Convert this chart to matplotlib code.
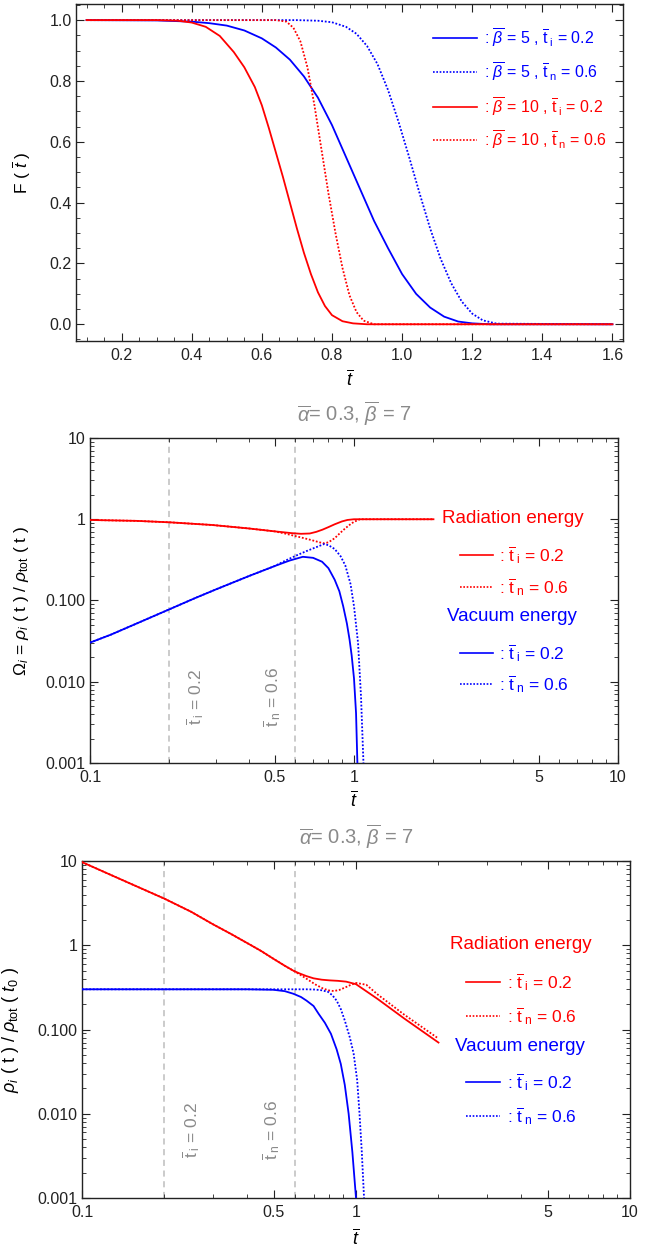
import matplotlib

matplotlib.use("Agg")
import matplotlib.pyplot as plt  # noqa: E402
from matplotlib.lines import Line2D  # noqa: E402
from matplotlib.ticker import FixedLocator, MultipleLocator, NullFormatter  # noqa: E402

RED = "#FF0000"
BLUE = "#0000FF"
GREY = "#8A8A8A"
VLINE = "#BDBDBD"
FRAME = "#222222"
DOT = (0, (1.0, 1.0))

plt.rcParams.update(
    {
        "font.family": ["Liberation Sans", "DejaVu Sans"],
        "mathtext.fontset": "custom",
        "mathtext.rm": "Liberation Sans",
        "mathtext.it": "Liberation Sans:italic",
        "mathtext.bf": "Liberation Sans:bold",
        "font.size": 11,
        "axes.edgecolor": FRAME,
        "axes.linewidth": 1.0,
        "xtick.direction": "in",
        "ytick.direction": "in",
        "xtick.top": True,
        "ytick.right": True,
    }
)

# ---- panel 1: F(t) ----
t_b5_ti = [0.10, 0.30, 0.40, 0.45, 0.50, 0.55, 0.60, 0.64, 0.68, 0.72, 0.76, 0.80, 0.84, 0.88,
           0.92, 0.96, 1.00, 1.04, 1.08, 1.12, 1.16, 1.20, 1.25, 1.60]
F_b5_ti = [1.0, 0.999, 0.995, 0.99, 0.982, 0.966, 0.94, 0.91, 0.87, 0.815, 0.745, 0.655, 0.55, 0.445,
           0.34, 0.25, 0.165, 0.10, 0.055, 0.025, 0.009, 0.003, 0.0, 0.0]
t_b5_tn = [0.10, 0.70, 0.76, 0.80, 0.84, 0.87, 0.90, 0.93, 0.96, 0.99, 1.02, 1.05, 1.08, 1.11,
           1.14, 1.17, 1.20, 1.23, 1.27, 1.60]
F_b5_tn = [1.0, 1.0, 0.998, 0.993, 0.978, 0.955, 0.915, 0.855, 0.77, 0.665, 0.55, 0.43, 0.315, 0.215,
           0.135, 0.075, 0.035, 0.013, 0.002, 0.0]
t_b10_ti = [0.10, 0.30, 0.36, 0.40, 0.44, 0.48, 0.52, 0.55, 0.58, 0.60, 0.62, 0.64, 0.66, 0.68,
            0.70, 0.72, 0.74, 0.76, 0.78, 0.80, 0.83, 0.86, 0.90, 1.60]
F_b10_ti = [1.0, 1.0, 0.998, 0.992, 0.978, 0.948, 0.895, 0.845, 0.78, 0.72, 0.645, 0.565, 0.485, 0.40,
            0.315, 0.235, 0.165, 0.105, 0.06, 0.03, 0.01, 0.003, 0.0, 0.0]
t_b10_tn = [0.10, 0.64, 0.67, 0.69, 0.71, 0.73, 0.75, 0.77, 0.79, 0.81, 0.83, 0.85, 0.87, 0.89,
            0.92, 1.60]
F_b10_tn = [1.0, 1.0, 0.995, 0.975, 0.93, 0.845, 0.72, 0.575, 0.43, 0.30, 0.185, 0.095, 0.04, 0.012,
            0.0, 0.0]

# ---- panel 2: density fractions Omega_i ----
t_om_rad_ti = [0.10, 0.15, 0.20, 0.29, 0.40, 0.50, 0.58, 0.63, 0.68, 0.72, 0.76, 0.80, 0.845, 0.90,
               0.944, 1.0, 2.0]
om_rad_ti = [0.98, 0.955, 0.917, 0.85, 0.77, 0.71, 0.675, 0.662, 0.668, 0.70, 0.745, 0.80, 0.867, 0.94,
             0.98, 1.0, 1.0]
t_om_rad_tn = [0.10, 0.15, 0.20, 0.29, 0.40, 0.50, 0.55, 0.607, 0.66, 0.703, 0.74, 0.77, 0.80, 0.845,
               0.887, 0.927, 0.97, 1.0, 1.054, 2.0]
om_rad_tn = [0.98, 0.955, 0.917, 0.85, 0.77, 0.71, 0.665, 0.615, 0.575, 0.545, 0.52, 0.506, 0.52, 0.584,
             0.68, 0.774, 0.87, 0.93, 1.0, 1.0]
t_om_vac_ti = [0.10, 0.12, 0.15, 0.20, 0.25, 0.30, 0.40, 0.50, 0.57, 0.64, 0.70, 0.757, 0.80, 0.845,
               0.88, 0.91, 0.94, 0.962, 0.98, 1.0, 1.018, 1.03]
om_vac_ti = [0.0303, 0.038, 0.052, 0.078, 0.107, 0.137, 0.20, 0.265, 0.31, 0.345, 0.335, 0.30, 0.25, 0.18,
             0.13, 0.085, 0.052, 0.033, 0.021, 0.011, 0.0041, 0.001]
t_om_vac_tn = [0.10, 0.12, 0.15, 0.20, 0.25, 0.30, 0.40, 0.50, 0.55, 0.607, 0.66, 0.703, 0.74, 0.77,
               0.80, 0.845, 0.89, 0.927, 0.97, 1.0, 1.036, 1.063, 1.086]
om_vac_tn = [0.0303, 0.038, 0.052, 0.078, 0.107, 0.137, 0.20, 0.265, 0.31, 0.36, 0.405, 0.44, 0.47, 0.495,
             0.48, 0.43, 0.35, 0.27, 0.16, 0.085, 0.03, 0.0066, 0.001]

# ---- panel 3: rho_i / rho_tot(t0) ----
t_rho_rad_ti = [0.10, 0.15, 0.20, 0.25, 0.30, 0.35, 0.414, 0.45, 0.50, 0.55, 0.59, 0.62, 0.66, 0.70,
                0.75, 0.80, 0.86, 0.92, 1.0, 1.2, 1.5, 2.0]
rho_rad_ti = [9.7, 5.4, 3.57, 2.50, 1.78, 1.36, 1.0, 0.857, 0.69, 0.57, 0.50, 0.465, 0.43, 0.405,
              0.39, 0.383, 0.378, 0.37, 0.345, 0.23, 0.135, 0.070]
t_rho_rad_tn = [0.10, 0.15, 0.20, 0.25, 0.30, 0.35, 0.414, 0.45, 0.50, 0.55, 0.59, 0.62, 0.66, 0.71,
                0.76, 0.80, 0.83, 0.87, 0.91, 0.96, 1.0, 1.09, 1.2, 1.5, 2.0]
rho_rad_tn = [9.7, 5.4, 3.57, 2.50, 1.78, 1.36, 1.0, 0.857, 0.69, 0.57, 0.50, 0.455, 0.40, 0.343,
              0.305, 0.29, 0.286, 0.295, 0.314, 0.34, 0.357, 0.34, 0.26, 0.15, 0.078]
t_rho_vac_ti = [0.10, 0.20, 0.40, 0.50, 0.55, 0.59, 0.63, 0.66, 0.70, 0.73, 0.77, 0.81, 0.85, 0.88,
                0.91, 0.94, 0.97, 1.0]
rho_vac_ti = [0.30, 0.30, 0.30, 0.296, 0.285, 0.266, 0.243, 0.22, 0.19, 0.154, 0.12, 0.089, 0.058,
              0.039, 0.022, 0.010, 0.0035, 0.001]
t_rho_vac_tn = [0.10, 0.20, 0.40, 0.60, 0.66, 0.71, 0.75, 0.79, 0.82, 0.85, 0.88, 0.91, 0.95, 0.98,
                1.01, 1.03, 1.05, 1.07]
rho_vac_tn = [0.30, 0.30, 0.30, 0.30, 0.30, 0.298, 0.292, 0.28, 0.255, 0.22, 0.175, 0.128, 0.08, 0.052,
              0.025, 0.010, 0.0035, 0.001]

t_markers = [0.2, 0.6]
marker_text_t = [0.25, 0.49]
marker_text_y = 0.0065
log_xticks = [0.1, 0.5, 1, 5, 10]
log_xlabels = ["0.1", "0.5", "1", "5", "10"]
log_yticks = [0.001, 0.01, 0.1, 1, 10]
log_ylabels = ["0.001", "0.010", "0.100", "1", "10"]

TBAR = r"$\overline{t}$"
TI = r"$\overline{\mathrm{t}}_{\;\mathrm{i}}$"
TN = r"$\overline{\mathrm{t}}_{\;\mathrm{n}}$"
TITLE = r"$\overline{\alpha}$= 0.3, $\overline{\beta}$ = 7"
marker_labels = [TI + " = 0.2", TN + " = 0.6"]

W, H = 665, 1254
fig = plt.figure(figsize=(W / 100, H / 100), dpi=100)


def rect(x0, x1, y0, y1):
    return [x0 / W, 1 - y1 / H, (x1 - x0) / W, (y1 - y0) / H]


def key_line(ax, x0, x1, y, color, ls):
    ax.add_line(Line2D([x0, x1], [y, y], transform=ax.transAxes, color=color,
                       linestyle=ls, linewidth=1.2, clip_on=False))


def frame_ticks(ax):
    ax.tick_params(which="major", length=6, width=0.8, labelsize=11.5, colors=FRAME)
    ax.tick_params(which="minor", length=3, width=0.6, colors=FRAME)
    ax.tick_params(axis="x", pad=5)
    ax.tick_params(axis="y", pad=3)


def log_axes(ax):
    ax.set_xscale("log")
    ax.set_yscale("log")
    ax.set_xlim(0.1, 10)
    ax.set_ylim(0.001, 10)
    ax.xaxis.set_major_locator(FixedLocator(log_xticks))
    ax.set_xticklabels(log_xlabels)
    minors_x = [m * d for d in (0.1, 1) for m in range(2, 10) if m != 5]
    ax.xaxis.set_minor_locator(FixedLocator(minors_x))
    ax.yaxis.set_major_locator(FixedLocator(log_yticks))
    ax.set_yticklabels(log_ylabels)
    minors_y = [m * d for d in (0.001, 0.01, 0.1, 1) for m in range(2, 10)]
    ax.yaxis.set_minor_locator(FixedLocator(minors_y))
    ax.xaxis.set_minor_formatter(NullFormatter())
    ax.yaxis.set_minor_formatter(NullFormatter())
    frame_ticks(ax)
    for tm in t_markers:
        ax.axvline(tm, color=VLINE, linestyle=(0, (4, 3)), linewidth=1.1, zorder=1)
    for tx, lab in zip(marker_text_t, marker_labels):
        ax.text(tx, marker_text_y, lab, rotation=90, color=GREY, fontsize=12.5,
                ha="center", va="center")
    ax.set_title(TITLE, color=GREY, fontsize=14.5, y=1.025)
    ax.set_xlabel(TBAR, fontsize=13)


def energy_key(ax, xc, ys):
    ax.text(xc, ys[0], "Radiation energy", color=RED, fontsize=13.5, ha="center",
            va="center", transform=ax.transAxes)
    ax.text(xc, ys[3], "Vacuum energy", color=BLUE, fontsize=13.5, ha="center",
            va="center", transform=ax.transAxes)
    rows = [(ys[1], RED, "-", TI, "0.2"), (ys[2], RED, DOT, TN, "0.6"),
            (ys[4], BLUE, "-", TI, "0.2"), (ys[5], BLUE, DOT, TN, "0.6")]
    for y, c, ls, sym, val in rows:
        key_line(ax, xc - 0.10, xc - 0.037, y, c, ls)
        ax.text(xc - 0.025, y, ": " + sym + " = " + val, color=c, fontsize=12.5,
                ha="left", va="center", transform=ax.transAxes)


# panel 1
ax1 = fig.add_axes(rect(76, 623, 4, 341))
ax1.plot(t_b5_ti, F_b5_ti, color=BLUE, lw=1.3)
ax1.plot(t_b5_tn, F_b5_tn, color=BLUE, lw=1.3, ls=DOT)
ax1.plot(t_b10_ti, F_b10_ti, color=RED, lw=1.3)
ax1.plot(t_b10_tn, F_b10_tn, color=RED, lw=1.3, ls=DOT)
ax1.set_xlim(0.07, 1.63)
ax1.set_ylim(-0.055, 1.053)
ax1.xaxis.set_major_locator(MultipleLocator(0.2))
ax1.xaxis.set_minor_locator(MultipleLocator(0.05))
ax1.yaxis.set_major_locator(MultipleLocator(0.2))
ax1.yaxis.set_minor_locator(MultipleLocator(0.05))
ax1.xaxis.set_major_formatter(lambda v, p: f"{v:.1f}")
ax1.yaxis.set_major_formatter(lambda v, p: f"{v:.1f}")
frame_ticks(ax1)
ax1.set_xlabel(TBAR, fontsize=13)
ax1.xaxis.set_label_coords(0.5, -0.085)
ax1.set_ylabel("F ( " + TBAR + " )", fontsize=12.5)
ax1.yaxis.set_label_coords(-0.078, 0.5)
keys1 = [
    (0.899, BLUE, "-", r": $\overline{\beta}$ = 5 , " + TI + " = 0.2"),
    (0.798, BLUE, DOT, r": $\overline{\beta}$ = 5 , " + TN + " = 0.6"),
    (0.694, RED, "-", r": $\overline{\beta}$ = 10 , " + TI + " = 0.2"),
    (0.596, RED, DOT, r": $\overline{\beta}$ = 10 , " + TN + " = 0.6"),
]
for y, c, ls, lab in keys1:
    key_line(ax1, 0.652, 0.733, y, c, ls)
    ax1.text(0.745, y, lab, color=c, fontsize=11.5, ha="left", va="center",
             transform=ax1.transAxes)

# panel 2
ax2 = fig.add_axes(rect(90, 618, 438, 763))
ax2.plot(t_om_rad_ti, om_rad_ti, color=RED, lw=1.3, zorder=3)
ax2.plot(t_om_rad_tn, om_rad_tn, color=RED, lw=1.3, ls=DOT, zorder=3)
ax2.plot(t_om_vac_ti, om_vac_ti, color=BLUE, lw=1.3, zorder=3)
ax2.plot(t_om_vac_tn, om_vac_tn, color=BLUE, lw=1.3, ls=DOT, zorder=3)
log_axes(ax2)
ax2.xaxis.set_label_coords(0.5, -0.085)
ax2.set_ylabel(r"$\Omega_i$ = $\rho_i$ ( t ) / $\rho_{\mathrm{tot}}$ ( t )", fontsize=12.5)
ax2.yaxis.set_label_coords(-0.112, 0.5)
energy_key(ax2, 0.80, [0.751, 0.640, 0.542, 0.452, 0.338, 0.243])

# panel 3
ax3 = fig.add_axes(rect(82, 630, 861, 1198))
ax3.plot(t_rho_rad_ti, rho_rad_ti, color=RED, lw=1.3, zorder=3)
ax3.plot(t_rho_rad_tn, rho_rad_tn, color=RED, lw=1.3, ls=DOT, zorder=3)
ax3.plot(t_rho_vac_ti, rho_vac_ti, color=BLUE, lw=1.3, zorder=3)
ax3.plot(t_rho_vac_tn, rho_vac_tn, color=BLUE, lw=1.3, ls=DOT, zorder=3)
log_axes(ax3)
ax3.xaxis.set_label_coords(0.5, -0.09)
ax3.set_ylabel(r"$\rho_i$ ( t ) / $\rho_{\mathrm{tot}}$ ( $t_0$ )", fontsize=13)
ax3.yaxis.set_label_coords(-0.112, 0.5)
energy_key(ax3, 0.80, [0.751, 0.641, 0.540, 0.451, 0.344, 0.243])

fig.savefig("out.png", dpi=100)
